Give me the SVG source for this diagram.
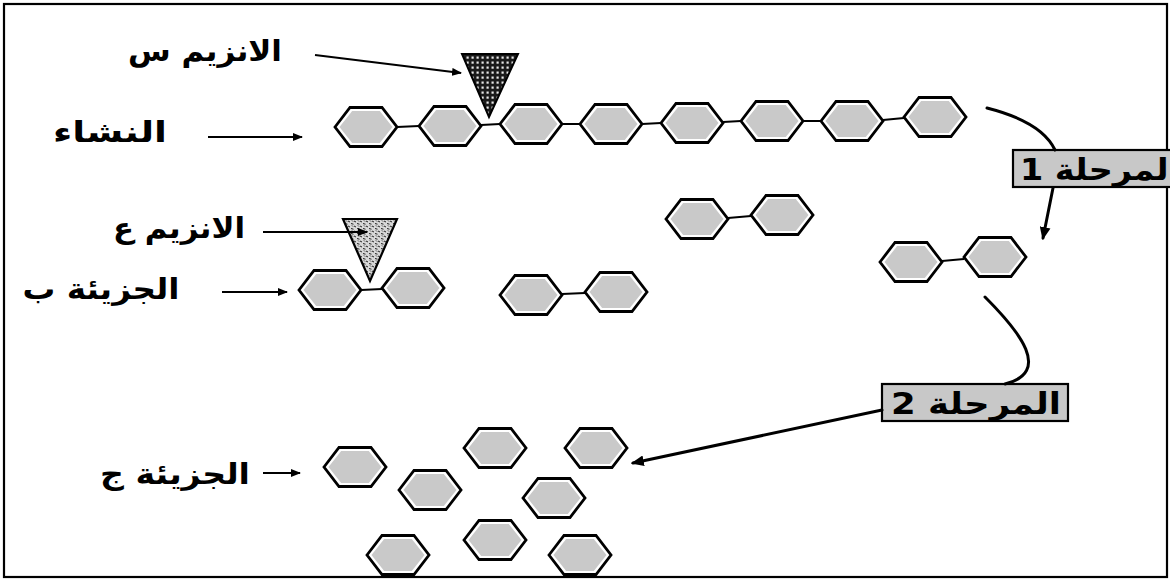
<svg xmlns="http://www.w3.org/2000/svg" width="1170" height="581" viewBox="0 0 1170 581">
  <style>
    .lbl { font-family: "DejaVu Sans", "Noto Sans", sans-serif; font-weight: bold; font-size: 29px; fill: #000; }
    .stage { font-family: "DejaVu Sans", "Noto Sans", sans-serif; font-weight: bold; font-size: 30px; fill: #000; }
    .ptr { stroke: #000; stroke-width: 1.8; fill: none; }
    .flow { stroke: #000; stroke-width: 3; fill: none; stroke-linecap: round; }
    .bond { stroke: #000; stroke-width: 2; }
    .box { fill: #c8c8c8; stroke: #000; stroke-width: 2.2; }
  </style>
  <defs>
    <!-- glucose unit: black outline, thin white ring, grey body -->
    <g id="hex">
      <polygon points="-31,0 -16,-19.5 16,-19.5 31,0 16,19.5 -16,19.5" fill="#fff" stroke="#000" stroke-width="2.8" stroke-linejoin="miter"/>
      <polygon points="-26.5,0 -13.8,-16 13.8,-16 26.5,0 13.8,16 -13.8,16" fill="#c9c9c9"/>
    </g>
    <!-- plaid fill for enzyme S -->
    <pattern id="plaid" width="5" height="5" patternUnits="userSpaceOnUse">
      <rect width="5" height="5" fill="#1a1a1a"/>
      <rect x="1.5" y="1.5" width="2.2" height="2.2" fill="#e8e8e8"/>
    </pattern>
    <!-- speckled fill for enzyme E -->
    <pattern id="speckle" width="6" height="5" patternUnits="userSpaceOnUse">
      <rect width="6" height="5" fill="#d8d8d8"/>
      <path d="M0,1 L2,2 M3,3.5 L5.5,4.2 M4,0.5 L5,1.5" stroke="#222" stroke-width="1"/>
    </pattern>
    <marker id="ah" viewBox="0 0 10 8" refX="9" refY="4" markerWidth="10" markerHeight="8" markerUnits="userSpaceOnUse" orient="auto">
      <path d="M0,0 L10,4 L0,8 z" fill="#000"/>
    </marker>
    <marker id="ahBig" viewBox="0 0 12 10" refX="10" refY="5" markerWidth="13" markerHeight="11" markerUnits="userSpaceOnUse" orient="auto">
      <path d="M0,0 L12,5 L0,10 z" fill="#000"/>
    </marker>
  </defs>

  <rect x="0" y="0" width="1170" height="581" fill="#fff"/>
  <rect x="4" y="4" width="1163" height="573" fill="none" stroke="#000" stroke-width="2.2"/>

  <!-- labels -->
  <g id="label-enzyme-s"><text class="lbl" x="205" y="61" text-anchor="middle" direction="rtl" textLength="154" lengthAdjust="spacingAndGlyphs">الانزيم  س</text></g>
  <g id="label-starch"><text class="lbl" x="110" y="142" text-anchor="middle" direction="rtl" textLength="114" lengthAdjust="spacingAndGlyphs">النشاء</text></g>
  <g id="label-enzyme-e"><text class="lbl" x="179" y="238" text-anchor="middle" direction="rtl" textLength="132" lengthAdjust="spacingAndGlyphs">الانزيم ع</text></g>
  <g id="label-molecule-b"><text class="lbl" x="101" y="299" text-anchor="middle" direction="rtl" textLength="157" lengthAdjust="spacingAndGlyphs">الجزيئة ب</text></g>
  <g id="label-molecule-c"><text class="lbl" x="175" y="484" text-anchor="middle" direction="rtl" textLength="150" lengthAdjust="spacingAndGlyphs">الجزيئة ج</text></g>

  <!-- starch chain -->
  <g id="starch">
    <line class="bond" x1="397" y1="127" x2="419" y2="126"/>
    <line class="bond" x1="481" y1="125" x2="500" y2="124"/>
    <line class="bond" x1="562" y1="124" x2="580" y2="124"/>
    <line class="bond" x1="642" y1="124" x2="661" y2="123"/>
    <line class="bond" x1="723" y1="122" x2="741" y2="121"/>
    <line class="bond" x1="803" y1="121" x2="821" y2="121"/>
    <line class="bond" x1="883" y1="120" x2="904" y2="118"/>
    <use href="#hex" x="366" y="127"/>
    <use href="#hex" x="450" y="126"/>
    <use href="#hex" x="531" y="124"/>
    <use href="#hex" x="611" y="124"/>
    <use href="#hex" x="692" y="123"/>
    <use href="#hex" x="772" y="121"/>
    <use href="#hex" x="852" y="121"/>
    <use href="#hex" x="935" y="117"/>
  </g>

  <!-- enzyme S -->
  <g id="enzyme-s">
    <polygon points="462,54 518,54 489,117" fill="url(#plaid)" stroke="#000" stroke-width="2"/>
  </g>

  <!-- maltose produced in stage 1 -->
  <g id="maltose-mid">
    <line class="bond" x1="728" y1="218" x2="751" y2="216"/>
    <use href="#hex" x="697" y="219"/>
    <use href="#hex" x="782" y="215"/>
  </g>
  <g id="maltose-right">
    <line class="bond" x1="942" y1="261" x2="964" y2="259"/>
    <use href="#hex" x="911" y="262"/>
    <use href="#hex" x="995" y="257"/>
  </g>

  <!-- molecule B with enzyme E -->
  <g id="molecule-b">
    <line class="bond" x1="361" y1="290" x2="382" y2="289"/>
    <use href="#hex" x="330" y="290"/>
    <use href="#hex" x="413" y="288"/>
  </g>
  <g id="enzyme-e">
    <polygon points="343,219 397,219 370,281" fill="url(#speckle)" stroke="#000" stroke-width="2.2"/>
  </g>
  <g id="maltose-left">
    <line class="bond" x1="562" y1="294" x2="585" y2="293"/>
    <use href="#hex" x="531" y="295"/>
    <use href="#hex" x="616" y="292"/>
  </g>

  <!-- glucose units (molecule C) -->
  <g id="glucose">
    <use href="#hex" x="355" y="467"/>
    <use href="#hex" x="430" y="490"/>
    <use href="#hex" x="495" y="448"/>
    <use href="#hex" x="596" y="448"/>
    <use href="#hex" x="554" y="498"/>
    <use href="#hex" x="398" y="555"/>
    <use href="#hex" x="495" y="540"/>
    <use href="#hex" x="580" y="555"/>
  </g>

  <!-- stage boxes -->
  <g id="stage-1">
    <rect class="box" x="1013" y="150" width="170" height="37"/>
    <text class="stage" x="1100" y="180" text-anchor="middle" direction="rtl" textLength="160" lengthAdjust="spacingAndGlyphs">المرحلة 1</text>
  </g>
  <g id="stage-2">
    <rect class="box" x="882" y="384" width="186" height="37"/>
    <text class="stage" x="976" y="414" text-anchor="middle" direction="rtl" textLength="170" lengthAdjust="spacingAndGlyphs">المرحلة 2</text>
  </g>

  <!-- connectors -->
  <g id="connectors">
    <line class="ptr" x1="315" y1="55" x2="461" y2="73" marker-end="url(#ah)"/>
    <line class="ptr" x1="208" y1="137" x2="302" y2="137" marker-end="url(#ah)"/>
    <line class="ptr" x1="263" y1="232" x2="367" y2="232" marker-end="url(#ah)"/>
    <line class="ptr" x1="222" y1="292" x2="287" y2="292" marker-end="url(#ah)"/>
    <line class="ptr" x1="263" y1="473" x2="300" y2="473" marker-end="url(#ah)"/>
    <path class="flow" d="M987,108 Q1042,122 1055,150"/>
    <path class="flow" d="M1053,188 L1043,238" marker-end="url(#ahBig)"/>
    <path class="flow" d="M985,297 C1020,332 1052,372 1005,384"/>
    <path class="flow" d="M882,410 L633,463" marker-end="url(#ahBig)"/>
  </g>
</svg>
